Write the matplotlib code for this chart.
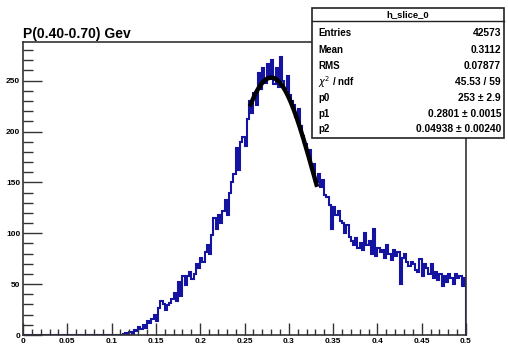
import numpy as np
import matplotlib
matplotlib.use("Agg")
import matplotlib.pyplot as plt
from matplotlib.patches import Rectangle
from matplotlib.ticker import MultipleLocator

plt.rcParams['font.family'] = ['Liberation Sans', 'DejaVu Sans']

# histogram: 200 bins on [0, 0.5], contents below 0.11 are empty
bin_edges = np.linspace(0.0, 0.5, 201)
counts_low = [0] * 44
counts = [
    0, 1, 2, 1, 3, 1, 5, 4, 8, 6,
    10, 7, 14, 12, 16, 20, 14, 27, 33, 30,
    25, 29, 31, 35, 41, 33, 52, 38, 58, 49,
    58, 62, 55, 60, 70, 66, 76, 72, 82, 88,
    80, 98, 115, 104, 118, 110, 122, 133, 118, 140,
    150, 158, 184, 162, 190, 195, 186, 212, 230, 218,
    238, 226, 258, 242, 262, 248, 266, 252, 270, 247,
    262, 244, 273, 250, 242, 255, 236, 230, 226, 214,
    222, 205, 196, 188, 178, 182, 164, 168, 150, 158,
    145, 152, 138, 136, 128, 104, 126, 118, 122, 112,
    110, 100, 108, 96, 92, 88, 95, 86, 90, 84,
    100, 88, 92, 80, 104, 78, 86, 82, 84, 76,
    88, 80, 74, 84, 78, 82, 50, 76, 80, 72,
    68, 72, 70, 64, 62, 75, 58, 70, 66, 60,
    70, 56, 62, 54, 60, 48, 58, 52, 60, 56,
    50, 60, 56, 58, 48, 56,
]
hist_values = np.array(counts_low + counts, dtype=float)

# gaussian fit results
p0, p1, p2 = 253.0, 0.2801, 0.04938
fit_lo, fit_hi = 0.256, 0.332

W, H = 508, 348
fig = plt.figure(figsize=(W / 100, H / 100), dpi=100)
fig.patch.set_facecolor("white")

def px(x, y):
    return x / W, 1 - y / H

ax = fig.add_axes([23 / W, 1 - 335 / H, (466 - 23) / W, (335 - 42) / H])
ax.stairs(hist_values, bin_edges, color="#1414a0", linewidth=1.5)

xf = np.linspace(fit_lo, fit_hi, 200)
ax.plot(xf, p0 * np.exp(-0.5 * ((xf - p1) / p2) ** 2), color="black",
        linewidth=3.2, solid_capstyle="butt")

ax.set_xlim(0, 0.5)
ax.set_ylim(0, 288)
ax.xaxis.set_major_locator(MultipleLocator(0.05))
ax.xaxis.set_minor_locator(MultipleLocator(0.01))
ax.yaxis.set_major_locator(MultipleLocator(50))
ax.yaxis.set_minor_locator(MultipleLocator(10))
ax.set_xticks(np.arange(0, 0.501, 0.05))
ax.set_xticklabels(["0", "0.05", "0.1", "0.15", "0.2", "0.25", "0.3",
                    "0.35", "0.4", "0.45", "0.5"])
ax.tick_params(which="both", direction="in", top=False, right=False,
               labelsize=6, width=1.0, color="#333333")
ax.tick_params(axis="x", which="major", length=9, pad=2)
ax.tick_params(axis="x", which="minor", length=4)
ax.tick_params(axis="y", which="major", length=14, pad=2)
ax.tick_params(axis="y", which="minor", length=7)
for lab in ax.get_xticklabels() + ax.get_yticklabels():
    lab.set_fontweight("bold")
for s in ax.spines.values():
    s.set_linewidth(1.2)
    s.set_color("#333333")

fig.text(*px(23, 38), "P(0.40-0.70) Gev", fontsize=10, fontweight="bold",
         ha="left", va="baseline")

# statistics box
bx0, by0, bx1, by1 = 312, 8, 504, 138
fig.patches.append(Rectangle(px(bx0, by1), (bx1 - bx0) / W, (by1 - by0) / H,
                             transform=fig.transFigure, facecolor="white",
                             edgecolor="#222222", linewidth=1.2, zorder=5))
fig.add_artist(plt.Line2D([px(bx0, 0)[0], px(bx1, 0)[0]],
                          [px(0, 21)[1]] * 2, transform=fig.transFigure,
                          color="#222222", linewidth=1.0, zorder=6))
fig.text(*px((bx0 + bx1) / 2, 15), "h_slice_0", fontsize=6.8,
         fontweight="bold", ha="center", va="center", zorder=7)

stat_names = ["Entries", "Mean", "RMS", r"$\chi^{2}$ / ndf", "p0", "p1", "p2"]
stat_values = ["42573", "0.3112", "0.07877", "45.53 / 59", "253 \u00b1 2.9",
               "0.2801 \u00b1 0.0015", "0.04938 \u00b1 0.00240"]
row_y = [33, 50, 66, 82, 98, 114, 129]
for name, val, y in zip(stat_names, stat_values, row_y):
    fig.text(*px(318, y), name, fontsize=7, fontweight="bold",
             ha="left", va="center", zorder=7)
    fig.text(*px(501, y), val, fontsize=7.4, fontweight="bold",
             ha="right", va="center", zorder=7)

fig.savefig("out.png", dpi=100)
